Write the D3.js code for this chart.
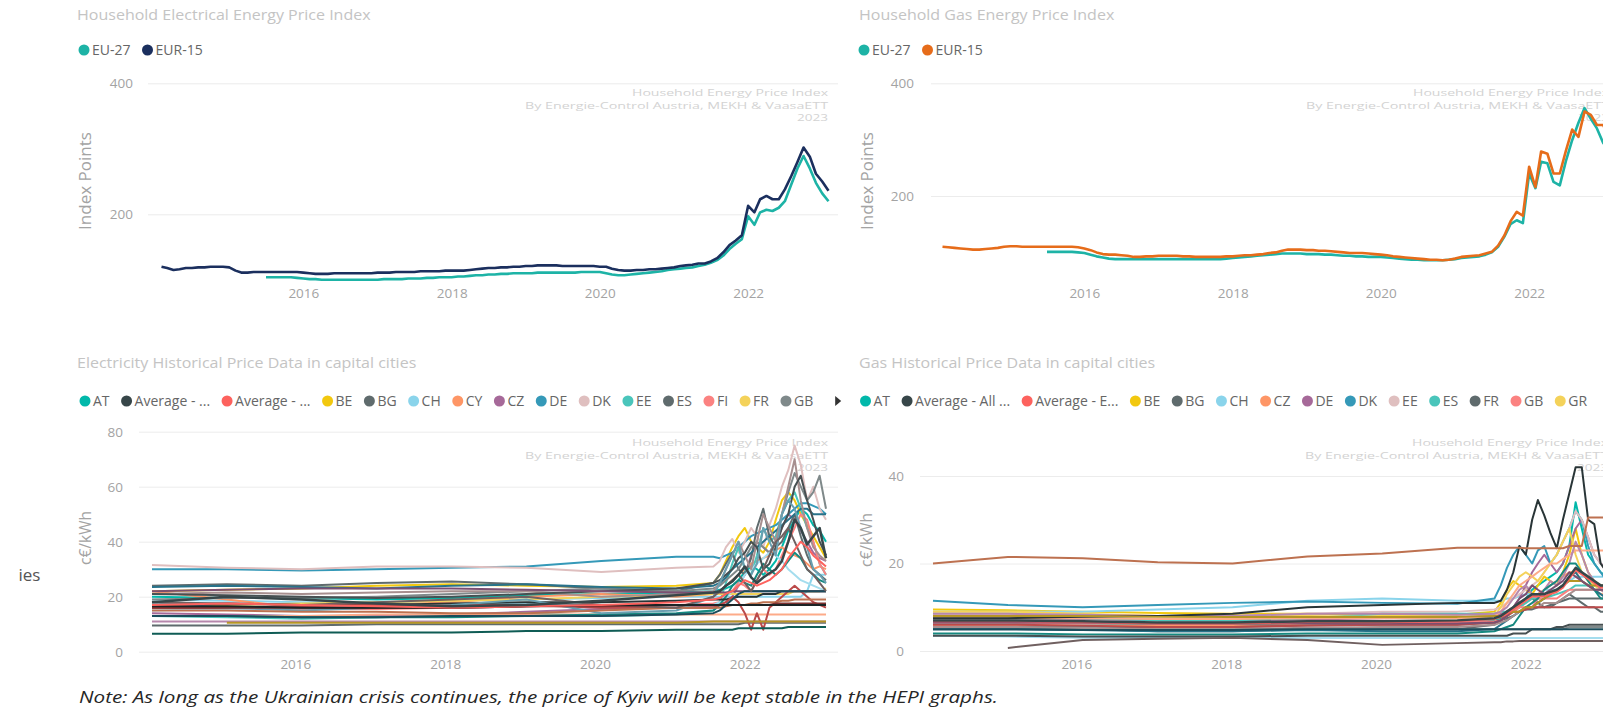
<!DOCTYPE html>
<html><head><meta charset="utf-8">
<script src="https://cdn.jsdelivr.net/npm/d3@7"></script>
<style>
body{margin:0;background:#fff;overflow:hidden}
text{font-family:"Open Sans","Noto Sans",sans-serif}
</style></head>
<body><svg id="c" width="1603" height="709"></svg>
<script>
// ---------------- DATA ----------------
// Monthly index series, Feb 2014 .. Feb 2023 (109 months)
const indexMonths = d3.timeMonth.range(new Date(2014,1,1), new Date(2023,2,1));
const elecEU27 = [null,null,null,null,null,null,null,null,null,null,null,null,null,null,null,null,null,
 104,104,104,104,104,103,
 102,101,101,100,100,100,100,100,
 100,100,100,100,100,101,101,101,101,102,
 102,102,103,103,104,104,104,105,105,106,
 107,107,108,108,109,109,110,110,
 110,110,111,111,111,111,111,111,111,112,
 112,112,112,110,
 108,107,107,108,
 109,110,111,112,113,115,
 116,117,118,119,121,
 123,126,130,137,
 147,155,162,197,184,203,207,205,210,220,245,270,289,270,248,232,220];
const elecEUR15 = [120,118,115,116,118,118,119,119,120,120,120,119,
 114,111,111,112,112,112,112,112,112,112,112,
 111,110,109,109,109,110,110,110,
 110,110,110,110,111,111,111,112,112,112,
 112,113,113,113,113,114,114,114,114,115,
 116,117,118,118,119,119,120,120,
 121,121,122,122,122,122,121,121,121,121,
 121,121,120,120,
 117,115,114,114,
 115,115,116,116,117,118,
 119,121,122,123,125,
 125,128,133,142,
 153,160,168,213,203,223,228,223,223,238,258,280,302,288,262,250,236];
const gasEU27 = [null,null,null,null,null,null,null,null,null,null,null,null,null,null,null,null,null,
 101,101,101,101,101,100,99,
 96,93,91,89,
 88,88,88,88,88,88,88,88,88,88,88,88,88,88,88,
 88,88,88,89,90,91,92,93,
 94,95,96,97,98,98,
 98,98,97,97,97,96,96,95,
 94,94,93,93,92,92,92,91,
 90,89,88,87,87,86,86,86,86,
 87,88,90,91,92,93,96,
 100,110,128,150,
 157,152,240,214,261,258,225,219,262,299,330,356,337,320,294,280];
const gasEUR15 = [110,109,108,107,106,
 105,105,106,107,108,110,111,
 111,110,110,110,110,110,110,110,110,110,109,
 107,104,100,97,
 96,96,95,94,92,
 92,93,93,94,94,94,94,93,93,92,92,
 92,92,92,93,93,94,95,95,
 96,97,99,100,103,105,
 105,105,104,104,103,103,102,101,
 100,99,99,99,98,97,96,95,
 93,92,91,90,89,88,87,87,86,
 87,89,92,93,94,95,98,
 101,112,130,155,
 172,165,252,216,279,275,240,240,280,318,305,350,344,326,326,300];

// Capital-city price series (c€/kWh) sampled at these dates
const cityDates = ["2014-02-01","2015-02-01","2016-02-01","2017-02-01","2018-02-01","2019-02-01","2020-02-01","2021-02-01",
 "2021-08-01","2021-09-01","2021-10-01","2021-11-01","2021-12-01","2022-01-01","2022-02-01","2022-03-01","2022-04-01",
 "2022-05-01","2022-06-01","2022-07-01","2022-08-01","2022-09-01","2022-10-01","2022-11-01","2022-12-01","2023-01-01","2023-02-01"];

const elecNames = ["AT","Average - All capitals","Average - EU capitals","BE","BG","CH","CY","CZ","DE","DK","EE","ES","FI","FR","GB","GR","HR","HU","IE","IT","LT","LU","LV","MT","NL","NO","PL","PT","RO","SE","SI","SK","UA"];
const elecValues = [
 [20,19.5,19.5,19,19.5,20.5,21,21.5, 22,22.5,23,24,26,29,31,30,28,30,33,38,44,48,52,50,46,44,40],
 [18,20,19,17.5,16.5,17,18.5,20.5, 21.5,22,24,25.5,28,31,27,25,27,28.5,30,33,40,48,45,39,42,45,34],
 [17,17.5,17,16.5,16,16.5,17,18, 19,19.5,21,22,24,26,25,24,25,26,28,30,34,37,40,38,35,33,31],
 [22,22.5,23,24,24.5,24,23.5,24, 25,28,33,38,42,45,40,38,36,40,48,55,58,55,50,46,42,38,34],
 [9.5,9.5,9.5,10,10,10,10,10, 10,10,10,10,10,10.5,10.5,10.5,10.5,10.5,10.5,10.5,10.5,10.5,10.5,10.5,10.5,10.5,10.5],
 [19,18.5,18,18,18.5,19,19.5,20, 20,20,20,20,20,20,20,20,20,20,20,20,20,20,20,22,28,28,28],
 [22,19,16,17,18,20,21,20, 21,22,24,26,28,30,32,33,34,35,37,38,36,35,34,32,30,31,30],
 [14,13.5,13,13,13.5,14.5,15.5,16, 16.5,17,18,20,24,28,35,40,38,36,40,45,50,48,44,40,36,34,33],
 [30,30,29.5,30,30.5,31,33,34.5, 34.5,34,35,36,38,40,42,43,44,45,46,48,50,52,54,54,53,52,50],
 [31.5,30.5,30,31,31,30.5,29,30.5, 31,33,38,41,36,40,45,42,38,46,52,60,66,75,68,55,60,52,48],
 [13,12.5,12,12.5,13,14,13,13.5, 15,18,25,32,38,30,28,35,45,40,42,50,55,58,52,45,40,32,28],
 [24,24.5,24,25,25.5,24.5,23,22, 25,28,32,36,30,28,34,45,52,42,38,40,45,50,42,35,30,28,26],
 [16,16,15.5,15.5,16,16.5,17,17, 17.5,18,20,22,25,24,22,26,30,28,30,35,40,45,50,48,40,32,28],
 [17,17,17.5,18,18.5,19,20,20.5, 21,21,21,21,21,21,21,21,21,21,21,21,21,22,22,22,22,22,23],
 [19,19.5,19.5,20,21,22,23,22, 23,24,26,28,30,34,38,40,38,36,40,50,58,65,60,55,58,64,52],
 [15,15.5,16,16.5,17,17.5,17,17, 17,18,20,22,24,28,30,32,34,36,35,33,30,28,26,25,24,23,22],
 [13,13,13,13.5,13.5,13.5,13.5,13.5, 13.5,13.5,13.5,13.5,13.5,13.5,13.5,13.5,13.5,13.5,13.5,13.5,13.5,13.5,13.5,13.5,13.5,13.5,13.5],
 [11,11,11,11,11,11,11,11, 11,11,11,11,11,11,11,11,11,11,11,11,11,11,11,11,11,11,11],
 [23.5,24,23.5,23,24,24.5,23.5,23, 24,25,27,30,32,34,36,38,40,42,44,46,48,50,52,52,50,50,50],
 [21,21.5,21,21.5,22,22,20,21, 22,25,30,35,40,35,30,40,50,45,40,50,60,70,55,45,38,35,33],
 [13,13,12.5,12.5,12.5,13,13.5,14, 15,17,20,24,26,25,24,28,32,30,28,30,33,36,34,30,28,26,25],
 [17,17.5,17,17,17.5,18,18,18.5, 19,19,19,19.5,20,20,20,20,21,21,21,22,22,22,22,22,22,22,22],
 [16,16,16.5,17,17,17,16,16, 16,17,18,20,18,14,8,14,8,16,18,20,22,24,22,20,18,17,16],
 [null,10.5,10.5,10.5,10.5,10.5,10.5,10.5, 11,11,11,11,11,11,11,11,11,11,11,11,11,11,11,11,11,11,11],
 [21,20.5,20,19.5,20,21,22,23, 25,26,28,30,34,36,40,38,30,32,38,45,50,60,64,55,48,40,35],
 [18,16,15,16,17,19,14,15, 20,25,30,35,40,30,28,32,45,40,35,50,55,52,45,38,30,28,25],
 [15,15,14.5,14.5,14,14,15,16, 16,16,16.5,17,17,17,17.5,17.5,18,18,18,18.5,18.5,19,19,19,19,19,19],
 [22,22.5,23,23,23,22.5,22,21.5, 21.5,21.5,21.5,22,22,22,22,22,22,22,22,22,22,22,22,22,22,22,22],
 [13,13,12.5,12.5,13,13,13,13.5, 14,15,17,19,21,22,22,22,22,22,22,22,22,22,22,22,22,22,22],
 [18,17.5,17,18,19,20,17,16, 20,22,24,26,28,25,22,26,30,35,40,42,45,40,35,30,28,25,22],
 [16,16,16,16,16,16.5,16.5,17, 17,17,17,17,17,17,17,17,17,17,17.5,17.5,17.5,17.5,17.5,17.5,17.5,17.5,17.5],
 [16.5,16.5,16,16,16,16.5,17,17, 17,17,17,17,17,17,17,17,17,17,17,17,17,17,17,17,17,17,17],
 [6.5,6.5,7,7,7,7.5,7.5,8, 8,8,8,8,8.5,8.5,8.5,8.5,8.5,8.5,8.5,8.5,9,9,9,9,9,9,9]
];
const elecLegend = ["AT","Average - ...","Average - ...","BE","BG","CH","CY","CZ","DE","DK","EE","ES","FI","FR","GB"];

const gasNames = ["AT","Average - All capitals","Average - EU capitals","BE","BG","CH","CZ","DE","DK","EE","ES","FR","GB","GR","HR","HU","IE","IT","LT","LU","LV","NL","PL","PT","RO","SE","SI","SK","UA"];
const gasValues = [
 [6.5,6.5,6.3,6,6,6.2,6.5,6.5, 7,7.5,8,9,10,12,14,15,16,17,18,20,24,34,28,22,20,18,17],
 [7,7,6.8,6.5,6.5,6.8,6.8,7, 7.5,8,9,10,11,12,13,13,13,13.5,14,15,17,19,18,17,16,15,15],
 [6.8,6.8,6.6,6.3,6.3,6.6,6.6,6.8, 7.3,7.8,8.5,9.5,10.5,11.5,12.5,12.5,12.5,13,13.5,14.5,16.5,18.5,17.5,16.5,15.5,14.5,14.5],
 [9.5,9.3,9,8.7,8.5,8.5,8.3,8.3, 9,11,14,16,15,14,13,15,17,16,15,18,22,28,22,18,16,15,14],
 [5.5,5.5,5,4.5,4.5,5,5,5, 6,7,9,10,11,12,12,11,10,10,11,12,13,12,11,10,10,9,9],
 [9,9,9,9.5,10,11.5,12,11.5, 11.5,11.5,12,12,12.5,13,13,13,14,14,14,15,16,17,17,17,17,17,17],
 [6,6,5.8,5.8,5.8,6,6.2,6.2, 6.5,7,8,9,10,11,12,13,14,15,16,17,18,18,16,15,14,13,13],
 [7.5,7.5,7.3,7,7,7.2,7.5,7.8, 8,8.5,9,10,12,15,18,20,22,20,18,20,24,28,30,26,22,20,19],
 [11.5,10.5,10,10.5,11,11.3,11,10.8, 12,15,19,22,24,22,20,23,24,20,22,25,28,32,30,24,20,18,16],
 [8.5,8.5,8.2,8,8,8.5,9,9, 9.5,10,11,12,13,14,15,16,18,20,22,25,28,32,30,26,22,20,18],
 [7.5,7.5,7.5,7,7,7.5,8.5,8.5, 8.5,9,9,9.5,10,11,12,12,12,12.5,13,13.5,14,15,15,15,15,15,15],
 [5.5,5.5,5.5,5.5,5.5,5.8,6,6, 6.5,7,7.5,8,9,9.5,9.5,10,10,10.5,11,11.5,12,12,12,12,12,12,12],
 [6.5,6.5,6.3,6.3,6.3,6.5,6.5,6.5, 6.8,7,8,9,10,10,10,12,12,12,12,13,14,14,14,14,14,14,14],
 [9,9,8.5,8,8,8,7.8,7.5, 8,10,13,15,17,18,17,16,18,20,22,25,28,22,18,16,15,14,13],
 [5,5,5,5,5,5,5,5, 5,5,5,5,5,5,5,5,5,5,5,5,5.5,5.5,5.5,5.5,5.5,5.5,5.5],
 [3.5,3.3,3,3,3,3,3,3, 3,3,3,3,3,3,3,3,3,3,3,3,3,3,3,3,3,3,3],
 [7.5,7.5,7.5,7.3,7.3,7.5,7.5,7.5, 8,9,11,13,15,16,17,18,19,20,20,21,22,23,23,23,23,23,23],
 [8.5,8.5,8.3,8,8,8.5,8.5,8.3, 8.5,9,10,12,14,15,13,12,14,16,15,17,20,25,22,18,16,14,13],
 [5,5,4.8,4.5,4.5,4.8,4.5,4.5, 5,6,7,8,9,10,10,11,12,13,14,15,17,18,16,15,14,13,12],
 [5.5,5.5,5.3,5,5,5.3,5.5,5.5, 6,6.5,7,8,9,10,10,10,11,11,11,12,13,14,14,14,14,14,14],
 [4,4,3.8,3.8,3.8,4,4,4, 4.5,5,5.5,6,8,10,11,12,14,15,16,18,20,20,18,16,14,12,12],
 [7.5,7.5,7.8,8,8.5,10,10.5,11, 11,11.5,14,18,24,22,30,34.5,31,27,23.5,30,36,42,42,30,29,20,18],
 [6,6,5.8,5.5,5.5,5.8,6,6, 6.5,7,8,9,9,9.5,10,10,10,10,10,10,10,10,10,10,10,10,10],
 [8,8,8,7.8,7.8,7.8,7.8,7.8, 8,8,8.5,9,9,10,10,11,12,13,14,15,16,16,16,15,15,15,15],
 [3.5,3.5,3.3,3.3,3.3,3.5,3.5,3.5, 3.5,3.5,3.5,4,4,4,5,5,5,5,5.5,5.5,6,6,6,6,6,6,6],
 [20,21.5,21.2,20.3,20,21.6,22.3,23.6, 23.6,23.6,23.6,23.6,23.6,23.5,23.5,23.5,23.5,23.5,23.5,23.5,24,24,24,30.5,30.5,30.5,30.5],
 [6.5,6.5,6.5,6.3,6.3,6.3,6.3,6.3, 6.5,7,8,10,12,13,15,14,13,14,15,16,18,17,16,15,14,14,14],
 [5,5,4.8,4.8,4.8,5,5,5, 5,5,5,5,5,5,5,5,5,5,5,5,5,5,5,5,5,5,5],
 [null,0.7,2.5,2.8,3,2.5,1.4,1.8, 2,2,2.2,2.2,2.3,2.3,2.3,2.3,2.3,2.3,2.3,2.3,2.3,2.3,2.3,2.3,2.3,2.3,2.3]
];
const gasLegend = ["AT","Average - All ...","Average - E...","BE","BG","CH","CZ","DE","DK","EE","ES","FR","GB","GR"];

const yearTicks = [2016,2018,2020,2022];
const indexTicks = [200,400];
const elecTicks = [0,20,40,60,80];
const gasTicks = [0,20,40];

// ---------------- STYLES ----------------
const elecColors = ["#01B8AA","#374649","#FD625E","#F2C80F","#5F6B6D","#8AD4EB","#FE9666","#A66999","#3599B8","#DFBFBF","#4AC5BB","#5F6B6D","#FB8281","#F4D25A","#7F898A","#A4DDEE","#FDAB89","#B687AC","#28738A","#A78F8F","#168980","#293537","#BB4A4A","#B59525","#475052","#6A9FB0","#BD7150","#7B4F71","#1B4D5C","#706060","#7D3231","#1C2325","#0F5C55"];
const gasColors = ["#01B8AA","#374649","#FD625E","#F2C80F","#5F6B6D","#8AD4EB","#FE9666","#A66999","#3599B8","#DFBFBF","#4AC5BB","#5F6B6D","#FB8281","#F4D25A","#7F898A","#A4DDEE","#FDAB89","#B687AC","#28738A","#A78F8F","#168980","#293537","#BB4A4A","#B59525","#475052","#BD7150","#7B4F71","#1B4D5C","#706060"];
const WATERMARK = ["Household Energy Price Index","By Energie-Control Austria, MEKH & VaasaETT","2023"];
const WM_WIDTHS = [196,303,31];

const svg = d3.select("#c");
const parse = d3.timeParse("%Y-%m-%d");
const cDates = cityDates.map(parse);
const LABEL = "#a3a3a3", TITLE = "#c4c4c4";

function panel(o){
  const g = svg.append("g");
  const x = d3.scaleTime().domain([indexMonths[0], indexMonths[indexMonths.length-1]]).range(o.xr);
  const y = d3.scaleLinear().domain(o.yd).range(o.yr);
  g.append("text").attr("transform",`translate(${o.titleX},${o.titleY}) scale(1.145,1)`).attr("dy","0.35em")
    .attr("font-size",14).attr("fill",TITLE).text(o.title);
  const ya = g.append("g").attr("transform",`translate(${o.gx[0]},0)`)
    .call(d3.axisLeft(y).tickValues(o.ticks).tickSize(-(o.gx[1]-o.gx[0])).tickPadding(o.gx[0]-o.ylabX).tickFormat(d3.format("d")));
  ya.select(".domain").remove();
  ya.selectAll("line").attr("stroke","#ececec");
  ya.selectAll("text").attr("font-size",13.5).attr("fill",LABEL).attr("font-family","Open Sans");
  const xa = g.append("g").attr("transform",`translate(0,${o.xLabY-9})`)
    .call(d3.axisBottom(x).tickValues(yearTicks.map(yy=>new Date(yy,0,1))).tickSize(0).tickPadding(0).tickFormat(d3.timeFormat("%Y")));
  xa.select(".domain").remove();
  xa.selectAll("text").attr("font-size",13.5).attr("fill",LABEL).attr("font-family","Open Sans");
  g.append("text").attr("transform",`translate(${o.yTitleX},${o.yTitleY}) rotate(-90)`)
    .attr("text-anchor","middle").attr("dy","0.35em").attr("font-size",o.yTitleSize).attr("fill","#a3a3a3").text(o.yTitle);
  WATERMARK.forEach((t,i)=>{
    g.append("text").attr("x",o.wmX).attr("y",o.wmY+i*12.3).attr("dy","0.35em").attr("text-anchor","end")
      .attr("font-family","DejaVu Sans").attr("font-size",9.5).attr("textLength",WM_WIDTHS[i]).attr("lengthAdjust","spacingAndGlyphs")
      .attr("fill","#d3d3d3").text(t);
  });
  return {g,x,y};
}

function legend(g, labels, colors, x0, yc, arrow){
  let cx = x0;
  labels.forEach((t,i)=>{
    g.append("circle").attr("cx",cx).attr("cy",yc).attr("r",5.5).attr("fill",colors[i]);
    const tx = g.append("text").attr("x",cx+8).attr("y",yc).attr("dy","0.35em").attr("font-size",14).attr("fill","#666").text(t);
    const w = tx.node().getComputedTextLength();
    cx = cx + 8 + w + 17;
  });
  if(arrow){
    const ax = cx + 5;
    g.append("path").attr("d",`M${ax},${yc-5}L${ax+6},${yc}L${ax},${yc+5}Z`).attr("fill","#333");
  }
}

// ---- Top-left: electricity index
const p1 = panel({title:"Household Electrical Energy Price Index", titleX:77, titleY:15,
  xr:[161.5,828.5], yd:[100,400], yr:[279.8,83.3], ticks:indexTicks, gx:[148,838], ylabX:133,
  xLabY:297, yTitle:"Index Points", yTitleSize:17, yTitleX:85, yTitleY:181, wmX:828, wmY:93});
legend(p1.g, ["EU-27","EUR-15"], ["#1DB3A6","#1B2F5E"], 84, 50, false);
const lineIdx = (x,y)=>d3.line().defined(d=>d!=null).x((d,i)=>x(indexMonths[i])).y(d=>y(d));
[[elecEU27,"#1DB3A6"],[elecEUR15,"#1B2F5E"]].forEach(([s,c])=>{
  p1.g.append("path").datum(s).attr("fill","none").attr("stroke",c).attr("stroke-width",2.6)
    .attr("stroke-linejoin","round").attr("d",lineIdx(p1.x,p1.y));
});

// ---- Top-right: gas index
const p2 = panel({title:"Household Gas Energy Price Index", titleX:859, titleY:15,
  xr:[942.5,1609.5], yd:[100,400], yr:[252.4,83.3], ticks:indexTicks, gx:[931,1620], ylabX:914,
  xLabY:297, yTitle:"Index Points", yTitleSize:17, yTitleX:867, yTitleY:181, wmX:1609, wmY:93});
legend(p2.g, ["EU-27","EUR-15"], ["#1DB3A6","#E66C1A"], 864, 50, false);
[[gasEU27,"#1DB3A6"],[gasEUR15,"#E66C1A"]].forEach(([s,c])=>{
  p2.g.append("path").datum(s).attr("fill","none").attr("stroke",c).attr("stroke-width",2.6)
    .attr("stroke-linejoin","round").attr("d",lineIdx(p2.x,p2.y));
});

// ---- Bottom panels
function cityLines(p, values, colors){
  const line = d3.line().defined(d=>d!=null).x((d,i)=>p.x(cDates[i])).y(d=>p.y(d));
  const order = d3.range(values.length).filter(i=>i!==1 && i!==2).concat([2,1]);
  order.forEach(i=>{
    p.g.append("path").datum(values[i]).attr("fill","none").attr("stroke",colors[i])
      .attr("stroke-width", i===1?2.5:2).attr("stroke-linejoin","round").attr("d",line);
  });
}
const p3 = panel({title:"Electricity Historical Price Data in capital cities", titleX:77, titleY:363,
  xr:[152,826], yd:[0,80], yr:[651.7,431.7], ticks:elecTicks, gx:[139,838], ylabX:123,
  xLabY:668, yTitle:"c€/kWh", yTitleSize:15.5, yTitleX:86, yTitleY:538, wmX:828, wmY:443});
legend(p3.g, elecLegend, elecColors, 85, 401, true);
cityLines(p3, elecValues, elecColors);

const p4 = panel({title:"Gas Historical Price Data in capital cities", titleX:859, titleY:363,
  xr:[933,1607], yd:[0,40], yr:[651,476], ticks:gasTicks, gx:[920,1620], ylabX:904,
  xLabY:668, yTitle:"c€/kWh", yTitleSize:15.5, yTitleX:867, yTitleY:540, wmX:1608, wmY:443});
legend(p4.g, gasLegend, gasColors, 865.5, 401, false);
cityLines(p4, gasValues, gasColors);

svg.append("text").attr("x",18.5).attr("y",575).attr("dy","0.35em").attr("font-size",17).attr("fill","#555").text("ies");
svg.append("text").attr("x",79).attr("y",697).attr("dy","0.35em").attr("font-size",17).attr("font-style","italic").attr("fill","#262626")
  .attr("textLength",919).attr("lengthAdjust","spacingAndGlyphs")
  .text("Note: As long as the Ukrainian crisis continues, the price of Kyiv will be kept stable in the HEPI graphs.");
</script></body></html>
